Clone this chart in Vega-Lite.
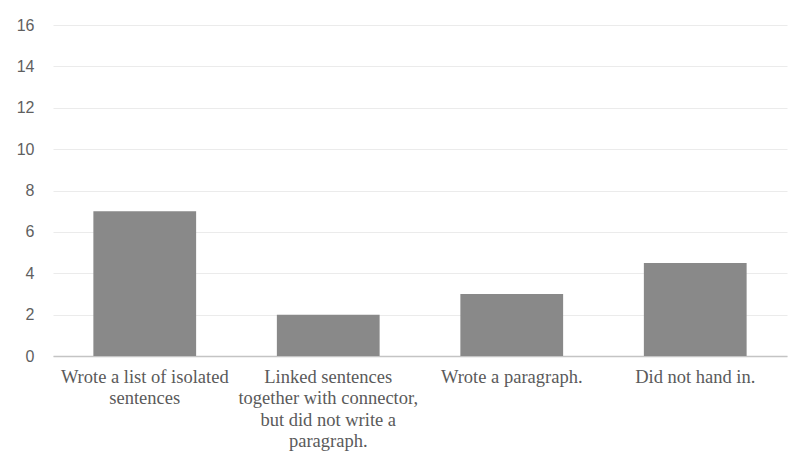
{
  "$schema": "https://vega.github.io/schema/vega-lite/v6.json",
  "autosize": "none",
  "width": 734,
  "height": 331,
  "padding": {"left": 53, "top": 25, "right": 1, "bottom": 99},
  "background": "white",
  "data": {
    "values": [
      {"category": "Wrote a list of isolated|sentences", "count": 7},
      {"category": "Linked sentences|together with connector,|but did not write a|paragraph.", "count": 2},
      {"category": "Wrote a paragraph.", "count": 3},
      {"category": "Did not hand  in.", "count": 4.5}
    ]
  },
  "mark": {"type": "bar", "color": "#898989"},
  "encoding": {
    "x": {
      "field": "category",
      "type": "nominal",
      "sort": null,
      "scale": {"paddingInner": 0.44, "paddingOuter": 0.22},
      "axis": {
        "title": null,
        "labelAngle": 0,
        "labelExpr": "split(datum.value, '|')",
        "labelLineHeight": 21.5,
        "labelPadding": 11,
        "labelBaseline": "top",
        "ticks": false,
        "domainColor": "#c4c4c4",
        "domainWidth": 1.5,
        "grid": false
      }
    },
    "y": {
      "field": "count",
      "type": "quantitative",
      "scale": {"domain": [0, 16]},
      "axis": {
        "title": null,
        "values": [0, 2, 4, 6, 8, 10, 12, 14, 16],
        "domain": false,
        "ticks": false,
        "labelPadding": 19,
        "gridColor": "#ebebeb",
        "gridWidth": 1
      }
    }
  },
  "config": {
    "view": {"stroke": null},
    "axisX": {"labelFont": "Times New Roman", "labelFontSize": 18.5, "labelColor": "#5a5a5a"},
    "axisY": {"labelFont": "Liberation Sans", "labelFontSize": 16, "labelColor": "#5f5f5f"}
  }
}
